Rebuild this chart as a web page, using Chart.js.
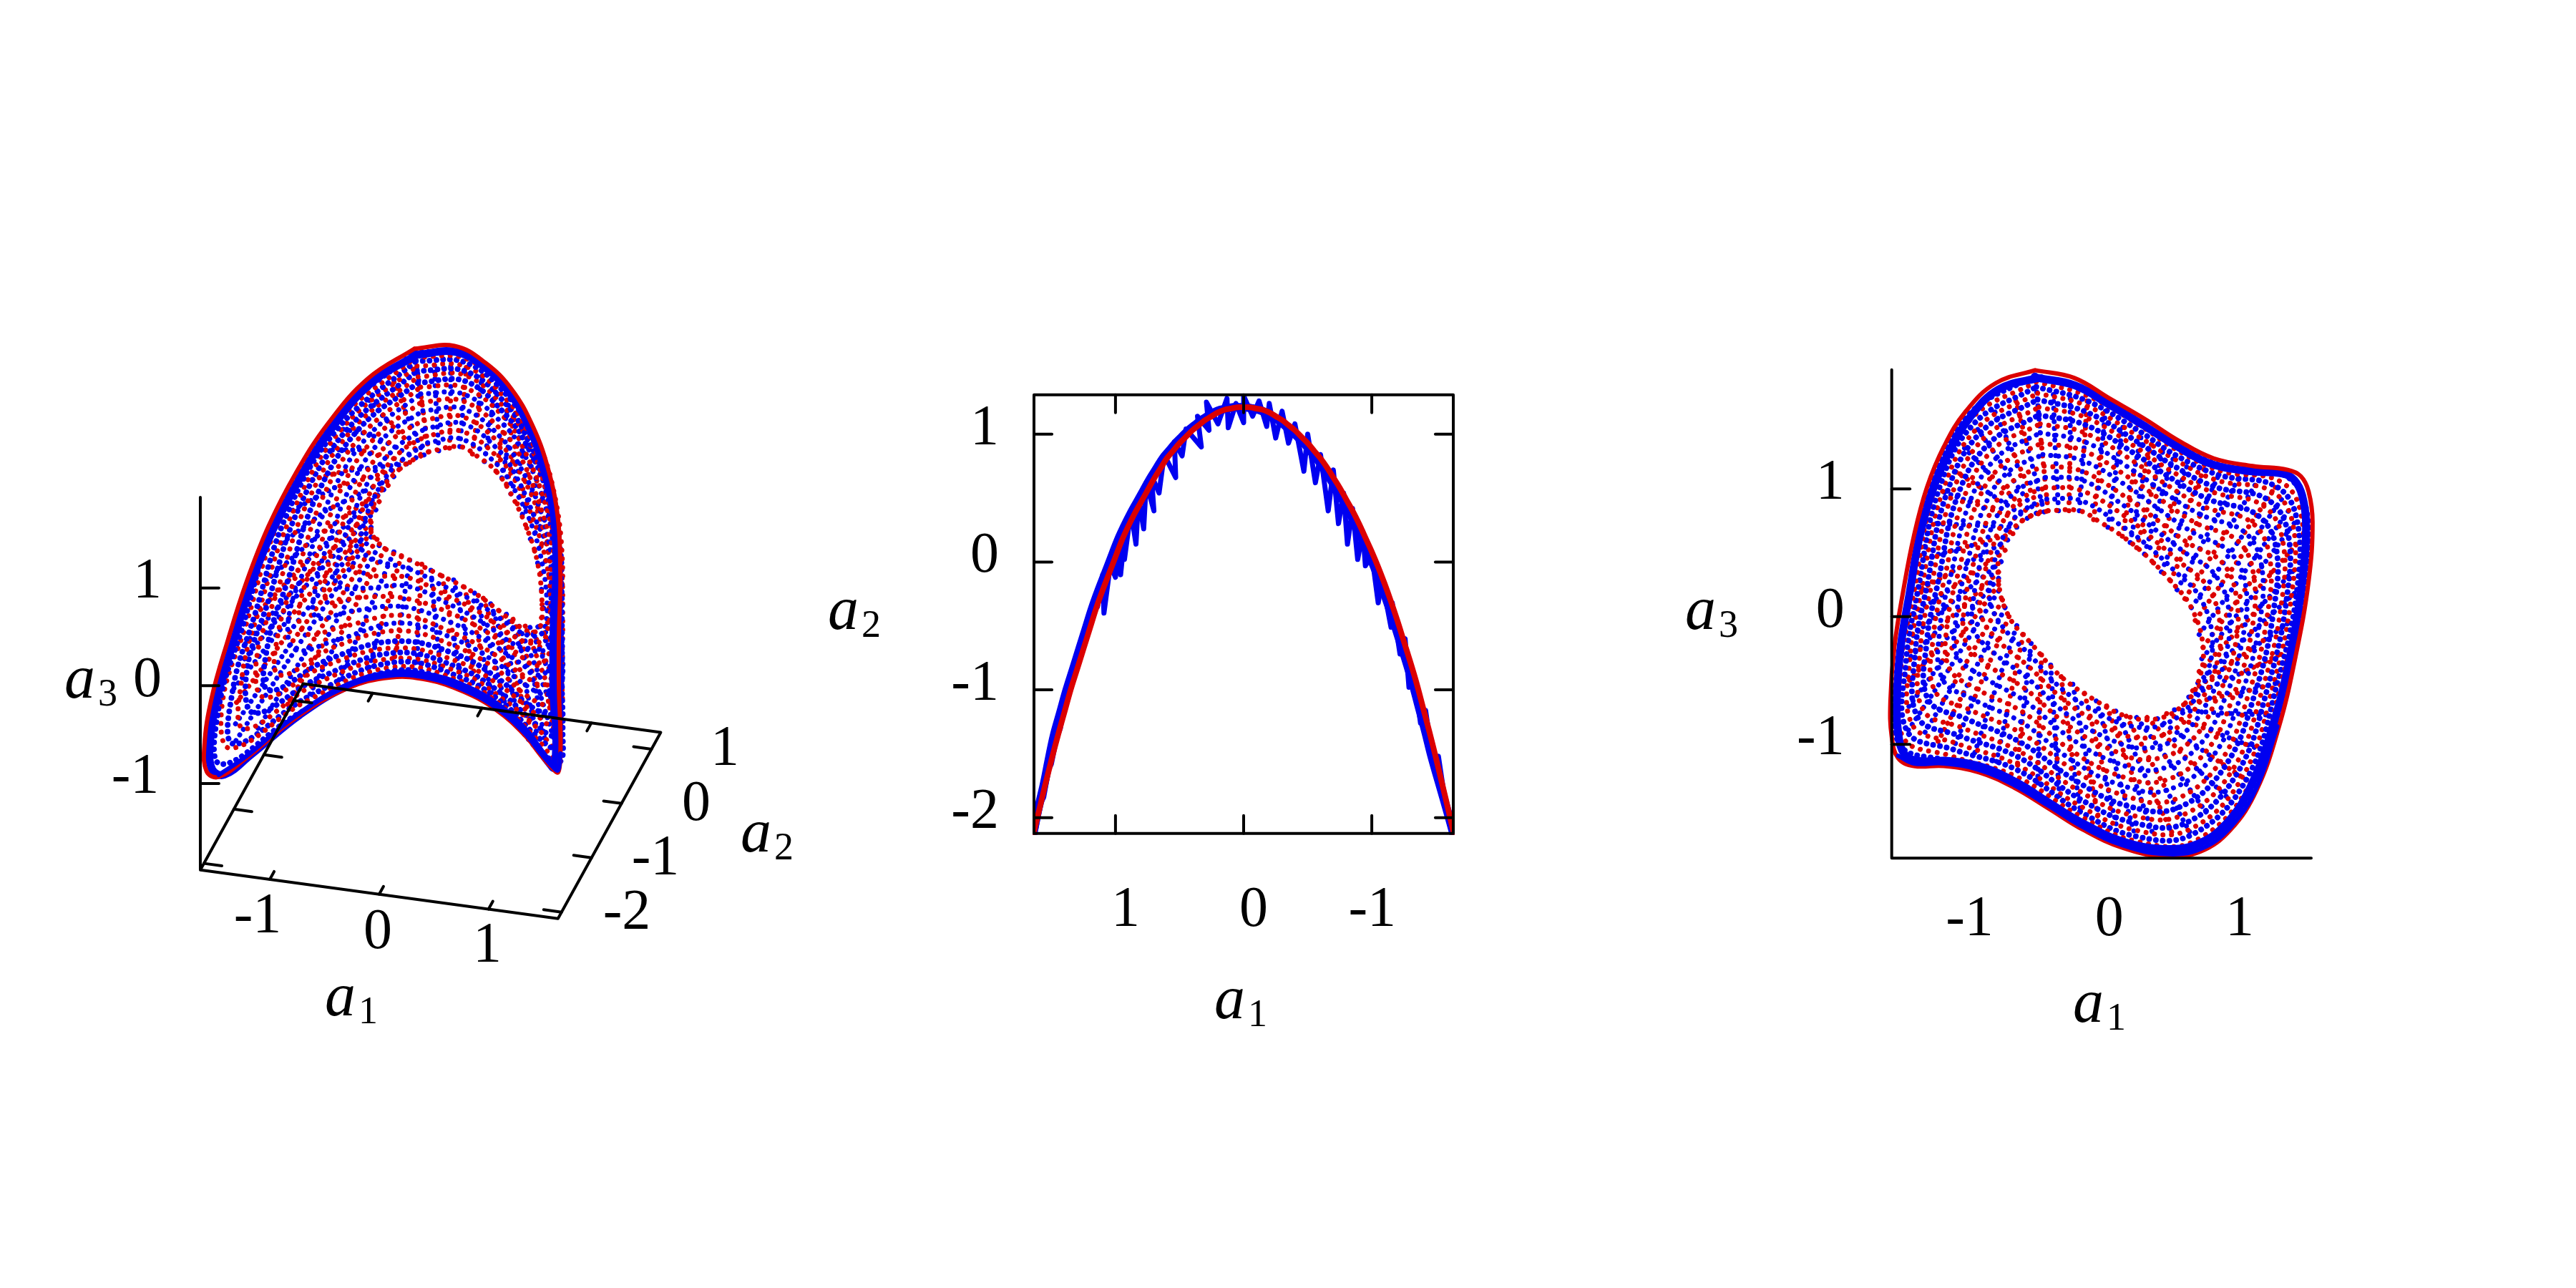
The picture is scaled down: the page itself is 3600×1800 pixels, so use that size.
<!DOCTYPE html>
<html>
<head>
<meta charset="utf-8">
<title>a1 a2 a3 attractor</title>
<script src="https://cdn.jsdelivr.net/npm/chart.js@4"></script>
<style>
  html, body { margin: 0; background: #fff; }
  canvas { position: absolute; }
</style>
</head>
<body>
<canvas id="view3d"></canvas>
<canvas id="planeA1A2"></canvas>
<canvas id="planeA1A3"></canvas>
<script>
// outer limit curve (a1, a3) and the middle one (a2)
const rimA1 = [-.51,-.81,-1.04,-1.21,-1.34,-1.44,-1.52,-1.59,-1.62,-1.61,-1.56,-1.44,-1.21,-.94,-.67,-.41,-.14,.16,.49,.76,.99,1.19,1.36,1.49,1.59,1.62,1.59,1.53,1.43,1.16,.86,.59,.33,.06,-.21];
const rimA2 = [.92,.47,-.02,-.49,-.92,-1.29,-1.61,-1.91,-2.04,-2,-1.78,-1.29,-.49,.21,.71,1.02,1.19,1.19,.94,.54,.07,-.49,-1.04,-1.51,-1.92,-2.04,-1.92,-1.67,-1.29,-.39,.36,.82,1.09,1.21,1.16];
const rimA3 = [1.93,1.83,1.61,1.33,1.01,.63,.21,-.24,-.66,-.94,-1.11,-1.17,-1.17,-1.22,-1.34,-1.5,-1.67,-1.81,-1.88,-1.84,-1.67,-1.36,-.87,-.31,.28,.74,.98,1.1,1.15,1.18,1.24,1.38,1.55,1.71,1.87];

// solid blue band just inside the rim
const bandRimA1 = [-.49,-.79,-1.01,-1.17,-1.3,-1.4,-1.47,-1.54,-1.57,-1.56,-1.51,-1.4,-1.17,-.91,-.65,-.4,-.14,.16,.48,.74,.96,1.15,1.32,1.45,1.54,1.57,1.54,1.48,1.39,1.13,.83,.57,.32,.06,-.2];
const bandRimA3 = [1.87,1.78,1.56,1.29,.98,.61,.2,-.23,-.64,-.91,-1.08,-1.13,-1.13,-1.18,-1.3,-1.46,-1.62,-1.76,-1.82,-1.78,-1.62,-1.32,-.84,-.3,.27,.72,.95,1.07,1.12,1.14,1.2,1.34,1.5,1.66,1.81];

// lower part of the rim is blue in the picture
const rimLowA1 = [-1.56,-1.44,-1.21,-.94,-.67,-.41,-.14,.16,.49,.76,.99,1.19,1.35];
const rimLowA2 = [-1.78,-1.29,-.49,.21,.71,1.02,1.19,1.19,.94,.54,.07,-.49,-1];
const rimLowA3 = [-1.09,-1.15,-1.15,-1.2,-1.32,-1.48,-1.65,-1.79,-1.86,-1.82,-1.65,-1.34,-.86];

// red dotted rings, hole first
const redRingA1 = [
  [-.41,-.17,-.01,.16,.33,.53,.69,.78,.74,.63,.43,.19,-.04,-.31,-.54,-.71,-.79,-.76,-.61],
  [-.43,-.16,.19,.37,.6,.81,.91,.88,.76,.55,.28,.01,-.28,-.56,-.79,-.92,-.92,-.84,-.73,-.59],
  [-.44,-.15,.21,.41,.66,.93,1.04,1.02,.89,.68,.37,.07,-.26,-.58,-.87,-1.04,-1.05,-.97,-.84,-.67],
  [-.46,-.14,.24,.45,.73,1.05,1.17,1.15,1.02,.8,.46,.12,-.23,-.6,-.95,-1.17,-1.18,-1.09,-.96,-.76],
  [-.47,-.13,.27,.49,.79,1.15,1.29,1.27,1.14,.91,.54,.17,-.2,-.62,-1.01,-1.28,-1.29,-1.2,-1.06,-.83],
  [-.48,-.12,.29,.52,.84,1.24,1.39,1.38,1.24,1,.61,.21,-.18,-.64,-1.07,-1.37,-1.39,-1.3,-1.15,-.9],
  [-.49,-.11,.3,.55,.88,1.31,1.47,1.46,1.32,1.08,.67,.25,-.17,-.65,-1.12,-1.45,-1.47,-1.38,-1.22,-.95],
  [-.5,-.11,.32,.57,.92,1.37,1.53,1.53,1.38,1.14,.71,.27,-.15,-.66,-1.16,-1.52,-1.54,-1.44,-1.28,-1]
];
const redRingA3 = [
  [.83,.83,.74,.63,.49,.28,.07,-.24,-.52,-.69,-.8,-.78,-.66,-.47,-.21,0,.28,.56,.75],
  [1.01,.99,.78,.63,.43,.24,-.06,-.39,-.66,-.89,-.95,-.85,-.66,-.39,-.19,0,.22,.53,.79,.94],
  [1.18,1.14,.92,.77,.58,.42,.12,-.26,-.63,-.98,-1.12,-1.04,-.85,-.57,-.38,-.2,.09,.46,.84,1.07],
  [1.36,1.3,1.07,.92,.73,.59,.31,-.13,-.6,-1.06,-1.29,-1.24,-1.05,-.75,-.57,-.4,-.03,.38,.88,1.19],
  [1.51,1.44,1.2,1.04,.86,.74,.47,-.01,-.57,-1.14,-1.44,-1.4,-1.21,-.91,-.73,-.58,-.15,.32,.92,1.31],
  [1.64,1.56,1.31,1.15,.98,.87,.6,.09,-.55,-1.21,-1.56,-1.55,-1.36,-1.05,-.87,-.73,-.24,.27,.95,1.4],
  [1.75,1.65,1.4,1.24,1.07,.98,.72,.17,-.53,-1.26,-1.67,-1.67,-1.48,-1.16,-.99,-.85,-.32,.22,.98,1.48],
  [1.84,1.73,1.48,1.31,1.14,1.06,.81,.23,-.52,-1.31,-1.76,-1.76,-1.57,-1.25,-1.09,-.95,-.39,.19,1,1.55]
];

// blue dotted rings between the red ones
const blueRingA1 = [
  [-.42,-.16,.17,.35,.56,.75,.85,.81,.7,.49,.24,-.01,-.3,-.55,-.75,-.85,-.85,-.78,-.67,-.54],
  [-.43,-.15,.2,.39,.63,.87,.98,.95,.83,.61,.33,.04,-.27,-.57,-.83,-.98,-.98,-.91,-.79,-.63],
  [-.45,-.14,.23,.43,.7,.99,1.11,1.08,.96,.74,.42,.1,-.24,-.59,-.91,-1.11,-1.11,-1.03,-.9,-.72],
  [-.47,-.13,.25,.47,.76,1.1,1.23,1.21,1.08,.85,.5,.15,-.22,-.61,-.98,-1.22,-1.24,-1.15,-1.01,-.8],
  [-.48,-.12,.28,.51,.82,1.19,1.34,1.32,1.19,.95,.58,.19,-.19,-.63,-1.04,-1.33,-1.34,-1.25,-1.11,-.87],
  [-.49,-.11,.29,.54,.86,1.27,1.43,1.42,1.28,1.04,.64,.23,-.18,-.64,-1.1,-1.41,-1.43,-1.34,-1.19,-.93],
  [-.5,-.11,.31,.56,.9,1.34,1.5,1.5,1.35,1.11,.69,.26,-.16,-.65,-1.14,-1.49,-1.5,-1.41,-1.25,-.98],
  [-.51,-.1,.32,.58,.93,1.4,1.57,1.57,1.42,1.17,.74,.29,-.15,-.66,-1.18,-1.55,-1.57,-1.47,-1.31,-1.02]
];
const blueRingA3 = [
  [.92,.91,.7,.56,.36,.16,-.15,-.45,-.67,-.84,-.86,-.76,-.57,-.3,-.09,.1,.29,.56,.77,.87],
  [1.09,1.07,.85,.7,.51,.33,.03,-.32,-.64,-.93,-1.03,-.95,-.76,-.48,-.28,-.1,.16,.49,.81,1],
  [1.27,1.22,1,.85,.66,.5,.22,-.19,-.61,-1.02,-1.2,-1.14,-.95,-.66,-.47,-.3,.03,.42,.86,1.13],
  [1.44,1.37,1.14,.98,.8,.66,.39,-.07,-.59,-1.1,-1.36,-1.32,-1.13,-.83,-.65,-.49,-.09,.35,.9,1.25],
  [1.58,1.5,1.26,1.1,.92,.8,.54,.04,-.56,-1.17,-1.5,-1.48,-1.29,-.98,-.8,-.65,-.19,.29,.93,1.35],
  [1.7,1.6,1.36,1.19,1.02,.92,.66,.13,-.54,-1.23,-1.62,-1.61,-1.42,-1.1,-.93,-.79,-.28,.24,.96,1.44],
  [1.8,1.69,1.44,1.27,1.11,1.02,.76,.2,-.52,-1.28,-1.71,-1.72,-1.53,-1.2,-1.04,-.9,-.35,.2,.99,1.51],
  [1.89,1.77,1.51,1.34,1.18,1.11,.85,.27,-.51,-1.33,-1.8,-1.81,-1.62,-1.29,-1.13,-1,-.42,.17,1.01,1.58]
];

// radial rows: start on the hole, then a middle point, then the outer end
const hatchHoleA1 = [-.33,-.25,-.17,-.06,.05,.16,.22,.27,.33,.4,.46,.53,.58,.64,.69,.72,.75,.78,.77,.75,.74,.7,.67,.63,.56,.5,.43,.35,.27,.19,.11,.04,-.04,-.13,-.22,-.31,-.39,-.46,-.54,-.6,-.65,-.71,-.74,-.76,-.79,-.79,-.79,-.79,-.77,-.74,-.72,-.68,-.65,-.61,-.57,-.54,-.5,-.47,-.44,-.41];
const hatchHoleA3 = [.83,.83,.83,.76,.7,.63,.58,.54,.49,.42,.35,.28,.21,.14,.07,-.03,-.14,-.24,-.33,-.43,-.52,-.58,-.63,-.69,-.73,-.76,-.8,-.79,-.79,-.78,-.74,-.7,-.66,-.6,-.53,-.47,-.38,-.3,-.21,-.14,-.07,0,.07,.13,.2,.25,.3,.35,.43,.52,.6,.65,.7,.75,.77,.79,.81,.82,.82,.83];
const hatchInA1 = [-.36,-.24,-.13,0,.12,.25,.32,.4,.47,.57,.66,.76,.87,.99,1.1,1.14,1.19,1.23,1.22,1.22,1.21,1.17,1.12,1.08,1,.93,.85,.73,.62,.5,.38,.27,.15,.03,-.1,-.22,-.35,-.48,-.61,-.73,-.86,-.98,-1.06,-1.14,-1.22,-1.23,-1.23,-1.24,-1.21,-1.18,-1.15,-1.1,-1.06,-1.01,-.94,-.87,-.8,-.69,-.58,-.47];
const hatchInA3 = [1.42,1.39,1.37,1.29,1.22,1.14,1.09,1.03,.98,.92,.86,.8,.75,.71,.66,.57,.48,.39,.24,.08,-.07,-.24,-.42,-.59,-.76,-.93,-1.1,-1.19,-1.27,-1.36,-1.35,-1.33,-1.32,-1.26,-1.19,-1.13,-1.03,-.93,-.83,-.77,-.71,-.65,-.6,-.54,-.49,-.36,-.22,-.09,.06,.2,.35,.53,.72,.9,1.02,1.13,1.25,1.31,1.38,1.44];
const hatchOutA1 = [-.37,-.24,-.11,.03,.17,.31,.39,.48,.56,.67,.79,.9,1.05,1.19,1.34,1.39,1.45,1.5,1.5,1.5,1.5,1.45,1.4,1.35,1.27,1.19,1.11,.97,.83,.69,.55,.4,.26,.12,-.02,-.16,-.32,-.49,-.65,-.81,-.98,-1.14,-1.26,-1.38,-1.49,-1.49,-1.5,-1.5,-1.47,-1.44,-1.41,-1.36,-1.3,-1.25,-1.16,-1.07,-.98,-.82,-.66,-.5];
const hatchOutA3 = [1.76,1.73,1.69,1.61,1.52,1.44,1.38,1.33,1.27,1.22,1.16,1.11,1.08,1.05,1.02,.93,.85,.76,.57,.39,.2,-.04,-.28,-.52,-.77,-1.03,-1.28,-1.42,-1.57,-1.71,-1.71,-1.72,-1.72,-1.66,-1.59,-1.53,-1.42,-1.31,-1.2,-1.15,-1.09,-1.04,-.99,-.95,-.9,-.72,-.53,-.35,-.17,.02,.2,.46,.73,.99,1.16,1.34,1.51,1.61,1.7,1.8];

const curveA1 = [-1.65,-1.6,-1.55,-1.5,-1.45,-1.4,-1.35,-1.3,-1.25,-1.2,-1.15,-1.1,-1.05,-1,-.95,-.9,-.85,-.8,-.75,-.7,-.65,-.6,-.55,-.5,-.45,-.4,-.35,-.3,-.25,-.2,-.15,-.1,-.05,0,.05,.1,.15,.2,.25,.3,.35,.4,.45,.5,.55,.6,.65,.7,.75,.8,.85,.9,.95,1,1.05,1.1,1.15,1.2,1.25,1.3,1.35,1.4,1.45,1.5,1.55,1.6,1.65];
const curveA2 = [-2.17,-1.95,-1.74,-1.53,-1.33,-1.14,-.95,-.78,-.62,-.46,-.31,-.17,-.04,.08,.19,.3,.4,.49,.58,.66,.74,.81,.87,.93,.98,1.03,1.07,1.11,1.14,1.17,1.19,1.2,1.21,1.21,1.21,1.2,1.19,1.17,1.14,1.11,1.07,1.03,.98,.93,.87,.81,.73,.65,.56,.47,.38,.28,.17,.04,-.09,-.22,-.36,-.52,-.68,-.84,-1,-1.18,-1.36,-1.55,-1.75,-1.96,-2.17];

// blue band hugging the red curve, a little towards +a1, closing in at both corners
const bandA1 = [-1.65,-1.59,-1.53,-1.47,-1.42,-1.37,-1.32,-1.27,-1.22,-1.17,-1.12,-1.07,-1.02,-.97,-.92,-.87,-.82,-.77,-.72,-.67,-.62,-.57,-.52,-.47,-.42,-.37,-.32,-.27,-.22,-.17,-.12,-.07,-.02,.03,.08,.13,.18,.23,.28,.33,.38,.43,.48,.53,.58,.63,.68,.73,.78,.83,.88,.93,.98,1.03,1.08,1.13,1.18,1.23,1.28,1.33,1.38,1.43,1.48,1.52,1.56,1.61,1.65];

// blue scatter around that curve, walked left to right, outer and inner edge in turn
const scatterA1 = [1.62,1.58,1.56,1.52,1.5,1.46,1.43,1.39,1.36,1.32,1.29,1.25,1.22,1.18,1.14,1.1,1.09,1.04,1,.98,.96,.92,.93,.88,.84,.82,.78,.76,.7,.72,.66,.62,.53,.54,.48,.45,.33,.36,.27,.29,.2,.13,.12,.06,0,0,-.07,-.12,-.18,-.2,-.25,-.3,-.35,-.4,-.47,-.5,-.56,-.6,-.66,-.7,-.74,-.78,-.81,-.85,-.89,-.93,-.95,-1,-1.05,-1.08,-1.15,-1.16,-1.22,-1.26,-1.29,-1.33,-1.38,-1.42,-1.48,-1.52,-1.58,-1.62];
const scatterA2 = [-2.08,-1.88,-1.84,-1.62,-1.58,-1.38,-1.3,-1.08,-1.02,-.82,-.76,-.58,-.56,-.34,-.35,-.1,-.4,-.02,-.12,.18,-.1,.3,.02,.4,.14,.5,.26,.62,.4,.68,.54,.84,.66,.94,.83,1.04,.9,1.14,1.03,1.25,1.08,1.28,1.05,1.24,1.09,1.3,1.14,1.26,1.06,1.24,.97,1.18,.93,1.08,.71,1,.62,.84,.4,.72,.3,.54,.14,.42,.02,.24,-.03,.06,-.32,-.14,-.51,-.32,-.72,-.6,-.98,-.88,-1.26,-1.16,-1.58,-1.52,-1.92,-2.06];

// axis ticks
const planeA1Ticks = [1, 0, -1];
const planeA2Ticks = [1, 0, -1, -2];
const sideA1Ticks = [-1, 0, 1];
const sideA3Ticks = [1, 0, -1];
const floorA2Ticks = [-2, -1, 0, 1];

const RED = '#dc0000';
const BLUE = '#0000f0';
const SERIF = '"Liberation Serif"';
const AXIS_WIDTH = 4;

// puts tick names and a_i names where the picture has them
const textLabels = {
  id: 'textLabels',
  afterDraw(chart, args, opts) {
    const ctx = chart.ctx;
    ctx.save();
    ctx.fillStyle = '#000';
    (opts.ticks || []).forEach(t => {
      ctx.font = `80px ${SERIF}`;
      ctx.textAlign = 'center';
      ctx.textBaseline = 'middle';
      ctx.fillText(t[0], t[1] - opts.left, t[2] - opts.top);
    });
    (opts.names || []).forEach(n => {
      ctx.textAlign = 'left';
      ctx.textBaseline = 'alphabetic';
      ctx.font = `italic 86px ${SERIF}`;
      const w = ctx.measureText('a').width;
      ctx.font = `54px ${SERIF}`;
      const w2 = ctx.measureText(n[0]).width;
      const x = n[1] - opts.left - (w + w2 + 4) / 2;
      const y = n[2] - opts.top;
      ctx.font = `italic 86px ${SERIF}`;
      ctx.fillText('a', x, y);
      ctx.font = `54px ${SERIF}`;
      ctx.fillText(n[0], x + w + 4, y + 11);
    });
    ctx.restore();
  }
};

function zipXY(xs, ys) {
  return xs.map((x, i) => ({ x, y: ys[i] }));
}

function closed(points) {
  return [...points, points[0]];
}

function solidLine(data, color, width, tension) {
  return { data, showLine: true, pointRadius: 0, borderColor: color, borderWidth: width, tension: tension || 0, clip: false, capBezierPoints: false, borderCapStyle: 'round', borderJoinStyle: 'round' };
}

function dottedLine(data, color, gap, width) {
  return { ...solidLine(data, color, width || 7, 0.4), borderDash: [0.01, gap] };
}

// rings + rim, shared by the 3d view and the a1-a3 plane
function surfaceDatasets(pointOf) {
  const sets = [];
  const a2Of = a1 => curveA2[Math.min(curveA2.length - 1, Math.max(0, Math.round((a1 + 1.65) / 0.05)))];
  const at = (a1, a3) => pointOf(a1, a2Of(a1), a3);
  const ring = (a1s, a3s) => closed(a1s.map((a1, i) => at(a1, a3s[i])));
  hatchInA1.forEach((a1, i) => {
    const color = i % 2 === 0 ? BLUE : RED;
    sets.push(dottedLine([at(hatchHoleA1[i], hatchHoleA3[i]), at(a1, hatchInA3[i])], color, 11));
    sets.push(dottedLine([at(a1, hatchInA3[i]), at(hatchOutA1[i], hatchOutA3[i])], i % 4 === 2 ? RED : BLUE, 9.5));
  });
  redRingA1.forEach((a1s, r) => {
    sets.push(dottedLine(ring(a1s, redRingA3[r]), RED, 12));
    sets.push(dottedLine(ring(blueRingA1[r], blueRingA3[r]), BLUE, r > 3 ? 9.5 : 11, r > 3 ? 8 : 7));
  });
  sets.push(solidLine(closed(bandRimA1.map((a1, i) => pointOf(a1, rimA2[i], bandRimA3[i]))), BLUE, 11, 0.4));
  sets.push(solidLine(closed(rimA1.map((a1, i) => pointOf(a1, rimA2[i], rimA3[i]))), RED, 6, 0.4));
  sets.push(solidLine(rimLowA1.map((a1, i) => pointOf(a1, rimLowA2[i], rimLowA3[i])), BLUE, 6, 0.4));
  return sets;
}

function baseOptions(scales, padding, labels) {
  return {
    responsive: false,
    animation: false,
    devicePixelRatio: 1,
    events: [],
    layout: { padding },
    scales,
    plugins: { legend: { display: false }, tooltip: { enabled: false }, textLabels: labels }
  };
}

function placeCanvas(id, left, top, width, height) {
  const c = document.getElementById(id);
  c.width = width;
  c.height = height;
  c.style.left = left + 'px';
  c.style.top = top + 'px';
  return c;
}

function numericAxis(min, max, ticks, size, tickOpts, extra) {
  return {
    type: 'linear', min, max,
    grid: { display: false },
    border: { display: false },
    afterBuildTicks(s) { s.ticks = ticks.map(value => ({ value })); },
    afterFit(s) { if (s.isHorizontal()) s.height = size; else s.width = size; },
    ticks: { font: { family: 'Liberation Serif', size: 80 }, color: '#000', maxRotation: 0, autoSkip: false, callback: v => String(v), ...tickOpts },
    ...extra
  };
}

// 3d view: the same values through the gnuplot style projection
const project = (a1, a2, a3) => ({ x: 152.85 * a1 + 41.9 * a2, y: -20.8 * a1 + 75.9 * a2 + 136.65 * a3 });
const VIEW_X0 = 618.7, VIEW_Y0 = 831.4;
const FLOOR = -1.884, ZTOP = 1.927, A1MAX = 1.635, A2MIN = -2.12, A2MAX = 1.308;

function frame3d() {
  const black = pts => solidLine(pts.map(p => project(p[0], p[1], p[2])), '#000', AXIS_WIDTH);
  const sets = [black([[-A1MAX, A2MIN, ZTOP], [-A1MAX, A2MIN, FLOOR], [A1MAX, A2MIN, FLOOR], [A1MAX, A2MAX, FLOOR], [-A1MAX, A2MAX, FLOOR], [-A1MAX, A2MIN, FLOOR]])];
  sideA3Ticks.forEach(v => sets.push(black([[-A1MAX, A2MIN, v], [-A1MAX + 0.158, A2MIN + 0.043, v]])));
  sideA1Ticks.forEach(v => {
    sets.push(black([[v, A2MIN, FLOOR], [v, A2MIN + 0.145, FLOOR]]));
    sets.push(black([[v, A2MAX, FLOOR], [v, A2MAX - 0.145, FLOOR]]));
  });
  floorA2Ticks.forEach(v => {
    sets.push(black([[-A1MAX, v, FLOOR], [-A1MAX + 0.164, v, FLOOR]]));
    sets.push(black([[A1MAX, v, FLOOR], [A1MAX - 0.164, v, FLOOR]]));
  });
  return sets;
}

placeCanvas('view3d', 60, 440, 1120, 1040);
new Chart('view3d', {
  type: 'scatter',
  data: { datasets: [...surfaceDatasets(project), ...frame3d()].reverse() },
  plugins: [textLabels],
  options: baseOptions(
    {
      x: { type: 'linear', display: false, min: 60 - VIEW_X0, max: 1180 - VIEW_X0 },
      y: { type: 'linear', display: false, min: VIEW_Y0 - 1480, max: VIEW_Y0 - 440 }
    },
    0,
    {
      left: 60, top: 440,
      ticks: [['1', 206, 814], ['0', 206, 952], ['-1', 189, 1087], ['-1', 360, 1282], ['0', 528, 1304], ['1', 681, 1323], ['1', 1013, 1048], ['0', 973, 1125], ['-1', 916, 1201], ['-2', 876, 1277]],
      names: [['3', 127, 975], ['2', 1072, 1190], ['1', 491, 1419]]
    })
});

// a1-a2 plane, a1 running backwards
const P2 = { xMax: 1.636, yMin: -2.123, yMax: 1.308 };
function frame2() {
  const black = (x1, y1, x2, y2) => solidLine([{ x: x1, y: y1 }, { x: x2, y: y2 }], '#000', AXIS_WIDTH);
  const sets = [solidLine([{ x: P2.xMax, y: P2.yMin }, { x: -P2.xMax, y: P2.yMin }, { x: -P2.xMax, y: P2.yMax }, { x: P2.xMax, y: P2.yMax }, { x: P2.xMax, y: P2.yMin }], '#000', AXIS_WIDTH)];
  planeA1Ticks.forEach(v => {
    sets.push(black(v, P2.yMin, v, P2.yMin + 0.14));
    sets.push(black(v, P2.yMax, v, P2.yMax - 0.14));
  });
  planeA2Ticks.forEach(v => {
    sets.push(black(P2.xMax, v, P2.xMax - 0.14, v));
    sets.push(black(-P2.xMax, v, -P2.xMax + 0.14, v));
  });
  return sets;
}

const blueWalk = {
  ...solidLine(zipXY(scatterA1, scatterA2), BLUE, 7),
  clip: 2
};

placeCanvas('planeA1A2', 1100, 400, 1000, 1060);
new Chart('planeA1A2', {
  type: 'scatter',
  data: { datasets: [blueWalk, { ...solidLine(zipXY(bandA1, curveA2), BLUE, 12, 0.4), clip: 2 }, { ...solidLine(zipXY(curveA1, curveA2), RED, 8, 0.4), clip: 2 }, ...frame2()].reverse() },
  plugins: [textLabels],
  options: baseOptions(
    {
      x: numericAxis(-P2.xMax, P2.xMax, planeA1Ticks, 180, { padding: 52, align: 'end', labelOffset: 34 }, { reverse: true }),
      y: numericAxis(P2.yMin, P2.yMax, planeA2Ticks, 150, { padding: 41, labelOffset: -7 })
    },
    { left: 195, right: 69, top: 151.7, bottom: 115.3 },
    { left: 1100, top: 400, names: [['2', 1194, 879], ['1', 1734, 1423]] })
});

// a1-a3 plane
const P3 = { xMax: 1.61, yMin: -1.892, yMax: 1.934 };
function frame3() {
  const black = (x1, y1, x2, y2) => solidLine([{ x: x1, y: y1 }, { x: x2, y: y2 }], '#000', AXIS_WIDTH);
  const sets = [solidLine([{ x: -P3.xMax, y: P3.yMax }, { x: -P3.xMax, y: P3.yMin }, { x: P3.xMax, y: P3.yMin }], '#000', AXIS_WIDTH)];
  sideA3Ticks.forEach(v => sets.push(black(-P3.xMax, v, -P3.xMax + 0.14, v)));
  return sets;
}

placeCanvas('planeA1A3', 2300, 340, 1000, 1120);
new Chart('planeA1A3', {
  type: 'scatter',
  data: { datasets: [...surfaceDatasets((a1, a2, a3) => ({ x: a1, y: a3 })), ...frame3()].reverse() },
  plugins: [textLabels],
  options: baseOptions(
    {
      x: numericAxis(-P3.xMax, P3.xMax, sideA1Ticks, 180, { padding: 31, align: 'end', labelOffset: 31 }),
      y: numericAxis(P3.yMin, P3.yMax, sideA3Ticks, 150, { padding: 58, labelOffset: -7 })
    },
    { left: 193.7, right: 70, top: 176.7, bottom: 80.7 },
    { left: 2300, top: 340, names: [['3', 2392, 879], ['1', 2934, 1428]] })
});
</script>
</body>
</html>
